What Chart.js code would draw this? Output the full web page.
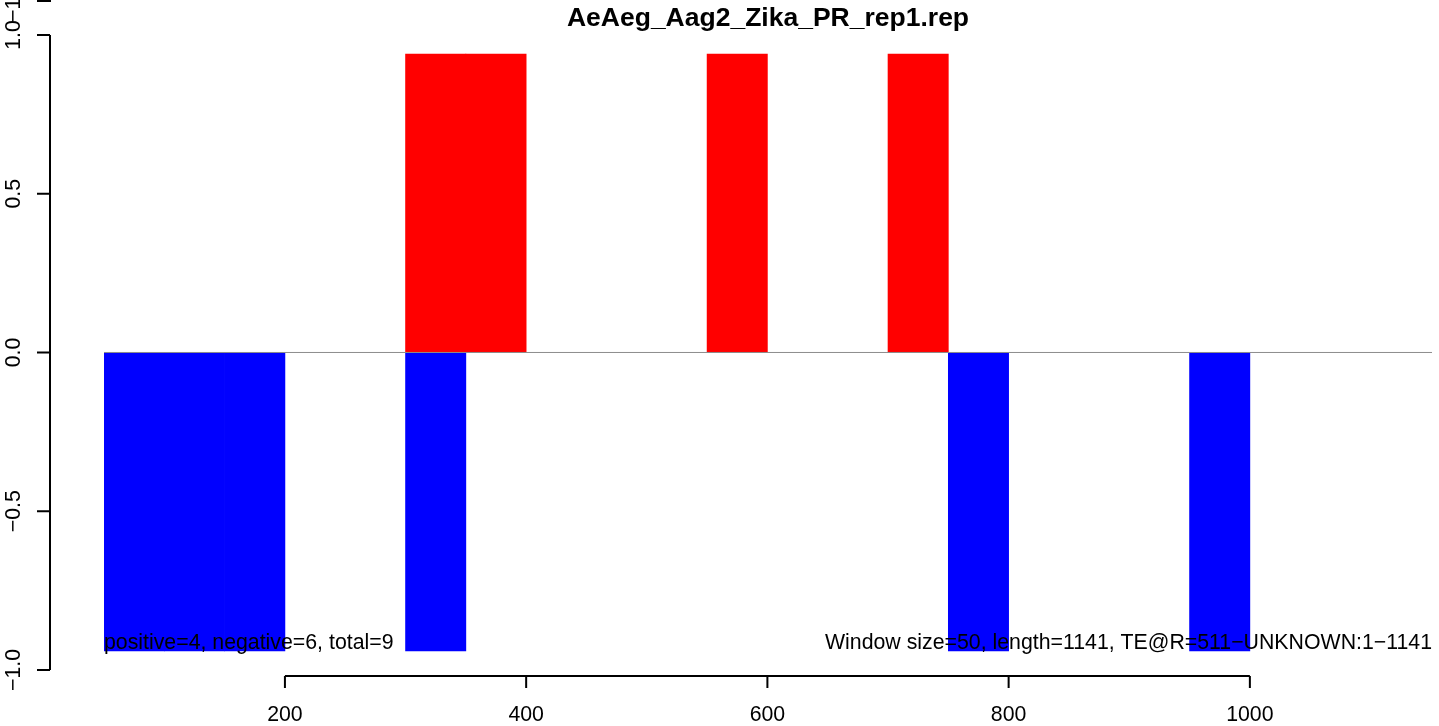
<!DOCTYPE html>
<html>
<head>
<meta charset="utf-8">
<script src="https://cdn.jsdelivr.net/npm/chart.js@4/dist/chart.umd.min.js"></script>
<style>
	html, body { margin: 0; padding: 0; background: #fff; }
	canvas { display: block; }
</style>
</head>
<body>
<canvas id="chart" width="1439" height="726"></canvas>
<script>
// window centres (window size = 50) and their scores
const positiveBins = [325, 375, 575, 725];
const positiveValues = [0.94, 0.94, 0.94, 0.94];
const negativeBins = [75, 125, 175, 325, 775, 975];
const negativeValues = [-0.94, -0.94, -0.94, -0.94, -0.94, -0.94];

const xTicks = [200, 400, 600, 800, 1000];
const yTicks = [-1, -0.5, 0, 0.5, 1];
const yTickLabels = ['\u22121.0', '\u22120.5', '0.0', '0.5', '1.0'];

const titleText = 'AeAeg_Aag2_Zika_PR_rep1.rep';
const leftNote = 'positive=4, negative=6, total=9';
const rightNote = 'Window size=50, length=1141, TE@R=511\u2212UNKNOWN:1\u22121141';

const FONT = '"Liberation Sans", Arial, Helvetica, sans-serif';

// R-style axes, title and notes, placed through the chart scales
const rDecorations = {
	id: 'rDecorations',
	afterDraw(chart) {
		const { ctx, chartArea, scales } = chart;
		const xs = scales.x;
		const ys = scales.y;
		const axisX = chartArea.left - 54;
		const axisY = chartArea.bottom;

		ctx.save();
		ctx.strokeStyle = '#000';
		ctx.fillStyle = '#000';
		ctx.lineWidth = 2;

		// x axis
		ctx.beginPath();
		ctx.moveTo(xs.getPixelForValue(xTicks[0]), axisY);
		ctx.lineTo(xs.getPixelForValue(xTicks[xTicks.length - 1]), axisY);
		xTicks.forEach((t) => {
			const px = xs.getPixelForValue(t);
			ctx.moveTo(px, axisY);
			ctx.lineTo(px, axisY + 12);
		});
		ctx.stroke();

		ctx.font = `21.3px ${FONT}`;
		ctx.textAlign = 'center';
		ctx.textBaseline = 'middle';
		xTicks.forEach((t) => {
			ctx.fillText(String(t), xs.getPixelForValue(t), 715);
		});

		// y axis
		ctx.beginPath();
		ctx.moveTo(axisX, ys.getPixelForValue(yTicks[0]));
		ctx.lineTo(axisX, ys.getPixelForValue(yTicks[yTicks.length - 1]));
		yTicks.forEach((t) => {
			const py = ys.getPixelForValue(t);
			ctx.moveTo(axisX, py);
			ctx.lineTo(axisX - 13, py);
		});
		// remnant of the panel above
		ctx.moveTo(axisX, 0);
		ctx.lineTo(axisX, 1);
		ctx.lineTo(axisX - 13, 1);
		ctx.stroke();

		const drawYLabel = (text, py) => {
			ctx.save();
			ctx.translate(14, py);
			ctx.rotate(-Math.PI / 2);
			ctx.fillText(text, 0, 0);
			ctx.restore();
		};
		yTicks.forEach((t, i) => drawYLabel(yTickLabels[i], ys.getPixelForValue(t)));
		drawYLabel(yTickLabels[0], 1);

		// notes inside the plot
		const noteY = ys.getPixelForValue(-0.917);
		ctx.textAlign = 'left';
		ctx.fillText(leftNote, chartArea.left, noteY);
		ctx.textAlign = 'right';
		ctx.fillText(rightNote, chartArea.right, noteY);

		// title
		ctx.font = `bold 26.5px ${FONT}`;
		ctx.textAlign = 'center';
		ctx.fillText(titleText, (chartArea.left + chartArea.right) / 2, 19);
		ctx.restore();
	}
};

new Chart(document.getElementById('chart').getContext('2d'), {
	type: 'bar',
	data: {
		datasets: [
			{
				type: 'line',
				data: [{ x: 50, y: 0 }, { x: 1151, y: 0 }],
				borderColor: '#8c8c8c',
				borderWidth: 1,
				pointRadius: 0,
				order: 0
			},
			{
				label: 'positive',
				data: positiveBins.map((x, i) => ({ x, y: positiveValues[i] })),
				backgroundColor: '#ff0000',
				borderWidth: 0,
				order: 1
			},
			{
				label: 'negative',
				data: negativeBins.map((x, i) => ({ x, y: negativeValues[i] })),
				backgroundColor: '#0000ff',
				borderWidth: 0,
				order: 1
			}
		]
	},
	options: {
		responsive: false,
		animation: false,
		devicePixelRatio: 1,
		layout: {
			padding: { left: 104, top: 35, right: 7, bottom: 50 }
		},
		datasets: {
			bar: {
				grouped: false,
				barPercentage: 1,
				categoryPercentage: 1
			}
		},
		plugins: {
			legend: { display: false },
			title: { display: false },
			tooltip: { enabled: false }
		},
		scales: {
			x: {
				type: 'linear',
				min: 50,
				max: 1151,
				offset: false,
				display: false,
				afterBuildTicks(scale) {
					scale.ticks = xTicks.map((value) => ({ value }));
				}
			},
			y: {
				type: 'linear',
				min: -1.019,
				max: 1,
				display: false
			}
		}
	},
	plugins: [rDecorations]
});
</script>
</body>
</html>
